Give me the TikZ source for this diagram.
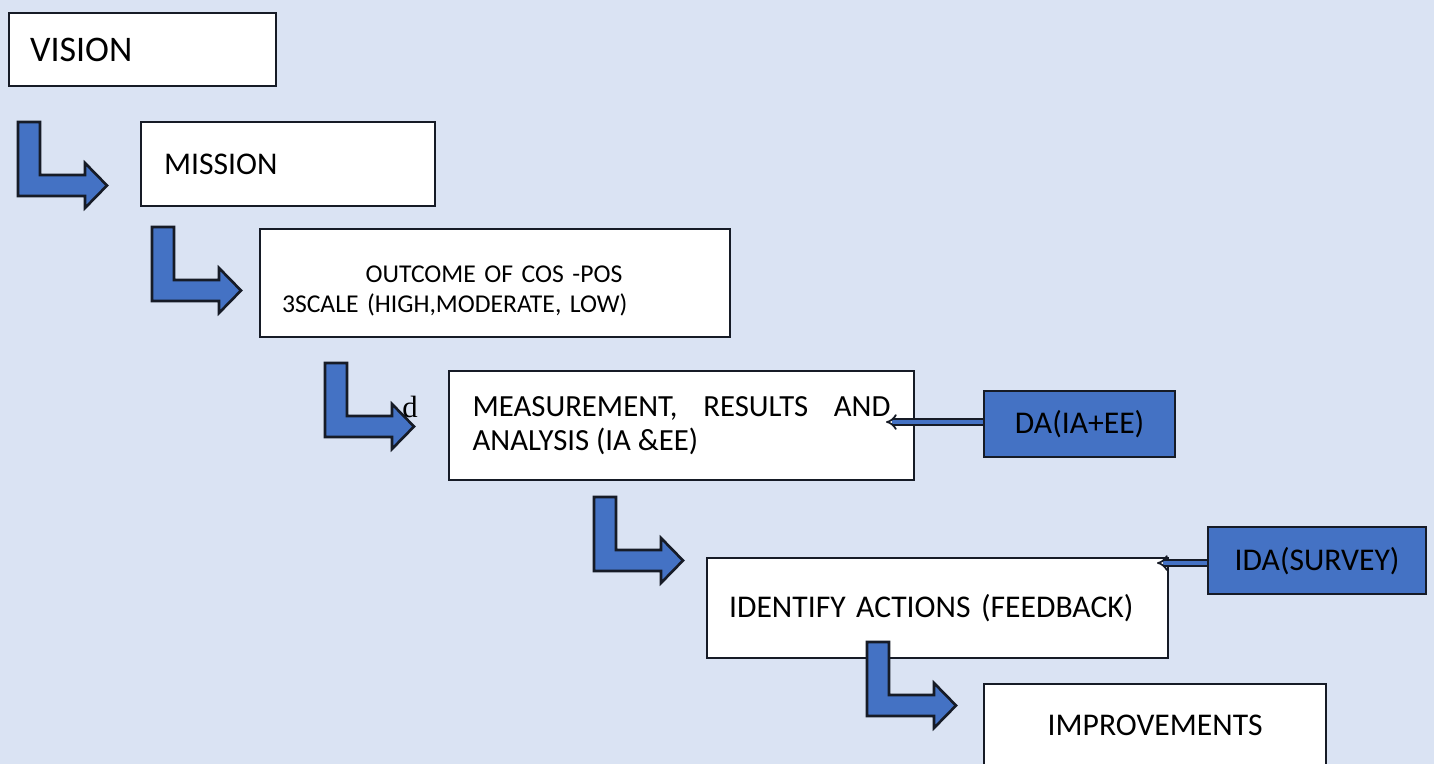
\documentclass[tikz,border=0pt]{standalone}
\usepackage{fontspec}
\setmainfont{Carlito}
\newfontfamily\timesfont{Liberation Serif}
\usetikzlibrary{arrows.meta}

\definecolor{bg}{HTML}{DAE3F3}
\definecolor{boxblue}{HTML}{4472C4}
\definecolor{edge}{HTML}{161B26}

\tikzset{
  box/.style={draw=edge, line width=1.3pt, fill=white, anchor=north west, align=left,
    inner ysep=0pt, font=\fontsize{18}{21.6}\selectfont},
  bluebox/.style={box, fill=boxblue, align=center},
  feed/.style={draw=edge, line width=1pt, double=boxblue, double distance=2pt, -{Implies}},
  larrow/.pic={
    \draw[edge, fill=boxblue, line width=1.5pt, line join=miter]
      (0,0) -- (22,0) -- (22,53) -- (67,53) -- (67,41) -- (89,63.5)
      -- (67,86) -- (67,74) -- (0,74) -- cycle;
  }
}

\begin{document}
\begin{tikzpicture}[x=0.02cm, y=-0.02cm]
    % Background
    \fill[bg] (0,0) rectangle (1434,764);
    \useasboundingbox (0,0) rectangle (1434,764);

    % Steps
    \node[box, font=\fontsize{20.5}{24}\selectfont, text width=4.5cm, inner xsep=0.42cm, minimum height=1.46cm] (vision) at (8,12) {VISION};
    \node[box, text width=4.96cm, inner xsep=0.46cm, minimum height=1.68cm] (mission) at (140,121) {MISSION};
    \node[box, minimum width=9.4cm, minimum height=2.16cm] (outcome) at (259,228) {};
    \node[font=\fontsize{14.6}{17}\selectfont, text width=8.48cm, align=left, inner sep=0pt] (outcometext) at (494,291)
        {{\centering OUTCOME OF COS -POS\par}3SCALE (HIGH,MODERATE, LOW)};
    \node[box, align=justify, font=\fontsize{17.5}{19.3}\selectfont, text width=8.36cm, inner xsep=0.47cm, minimum height=2.18cm] (measure) at (448,370)
        {MEASUREMENT, RESULTS AND ANALYSIS (IA \&EE)};
    \node[box, text width=8.34cm, inner xsep=0.44cm, minimum height=2cm] (identify) at (706,557) {IDENTIFY ACTIONS (FEEDBACK)};
    \node[box, align=center, minimum width=6.84cm, minimum height=1.64cm] (improve) at (983,683) {IMPROVEMENTS};

    % Inputs
    \node[bluebox, minimum width=3.82cm, minimum height=1.32cm] (da) at (983,390) {DA(IA+EE)};
    \node[bluebox, minimum width=4.36cm, minimum height=1.34cm] (ida) at (1207,526) {IDA(SURVEY)};

    % Bent arrows between steps
    \foreach \x/\y in {18/122, 152/227, 325/363, 594/497, 867/642} {
        \pic at (\x,\y) {larrow};
    }

    % Input arrows
    \coordinate (datip) at (886,422);
    \coordinate (idatip) at (1157,563);
    \draw[feed] (da.west |- datip) -- (datip);
    \draw[feed] (ida.west |- idatip) -- (idatip);

    \node[font=\timesfont\fontsize{17.5}{20}\selectfont, anchor=base west, inner sep=0pt] (dmark) at (402,417) {d};
\end{tikzpicture}
\end{document}
